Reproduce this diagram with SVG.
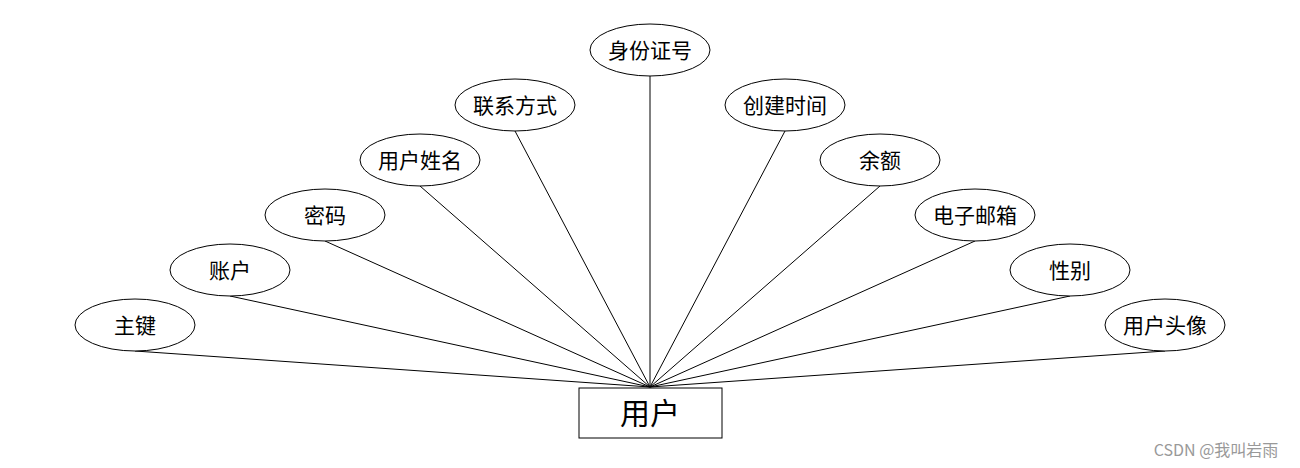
<svg xmlns="http://www.w3.org/2000/svg" width="1300" height="468" viewBox="0 0 1300 468">
<style>
ellipse{fill:#fff;stroke:#000;stroke-width:1}
text{font-family:"Noto Sans CJK SC","Liberation Sans",sans-serif;text-anchor:middle;fill:#000}
.a{font-size:21px}
line{stroke:#000;stroke-width:1}
</style>
<rect width="1300" height="468" fill="#fff"/>
<g id="connectors">
<line x1="135" y1="351" x2="650" y2="387"/>
<line x1="230" y1="296" x2="650" y2="387"/>
<line x1="325" y1="241" x2="650" y2="387"/>
<line x1="420" y1="186" x2="650" y2="387"/>
<line x1="515" y1="131" x2="650" y2="387"/>
<line x1="650" y1="76" x2="650" y2="387"/>
<line x1="785" y1="131" x2="650" y2="387"/>
<line x1="880" y1="186" x2="650" y2="387"/>
<line x1="975" y1="241" x2="650" y2="387"/>
<line x1="1070" y1="296" x2="650" y2="387"/>
<line x1="1165" y1="351" x2="650" y2="387"/>
</g>
<g id="n0"><ellipse cx="135" cy="325" rx="60" ry="26"/><text class="a" x="135" y="333">主键</text></g>
<g id="n1"><ellipse cx="230" cy="270" rx="60" ry="26"/><text class="a" x="230" y="278">账户</text></g>
<g id="n2"><ellipse cx="325" cy="215" rx="60" ry="26"/><text class="a" x="325" y="223">密码</text></g>
<g id="n3"><ellipse cx="420" cy="160" rx="60" ry="26"/><text class="a" x="420" y="168">用户姓名</text></g>
<g id="n4"><ellipse cx="515" cy="105" rx="60" ry="26"/><text class="a" x="515" y="113">联系方式</text></g>
<g id="n5"><ellipse cx="650" cy="50" rx="60" ry="26"/><text class="a" x="650" y="58">身份证号</text></g>
<g id="n6"><ellipse cx="785" cy="105" rx="60" ry="26"/><text class="a" x="785" y="113">创建时间</text></g>
<g id="n7"><ellipse cx="880" cy="160" rx="60" ry="26"/><text class="a" x="880" y="168">余额</text></g>
<g id="n8"><ellipse cx="975" cy="215" rx="60" ry="26"/><text class="a" x="975" y="223">电子邮箱</text></g>
<g id="n9"><ellipse cx="1070" cy="270" rx="60" ry="26"/><text class="a" x="1070" y="278">性别</text></g>
<g id="n10"><ellipse cx="1165" cy="325" rx="60" ry="26"/><text class="a" x="1165" y="333">用户头像</text></g>
<g id="user"><rect x="579" y="388" width="143" height="50" fill="#fff" stroke="#000"/><text x="650" y="424" font-size="30">用户</text></g>
<text x="1216" y="456" font-size="16" fill="#999" style="fill:#999">CSDN @我叫岩雨</text>
</svg>
